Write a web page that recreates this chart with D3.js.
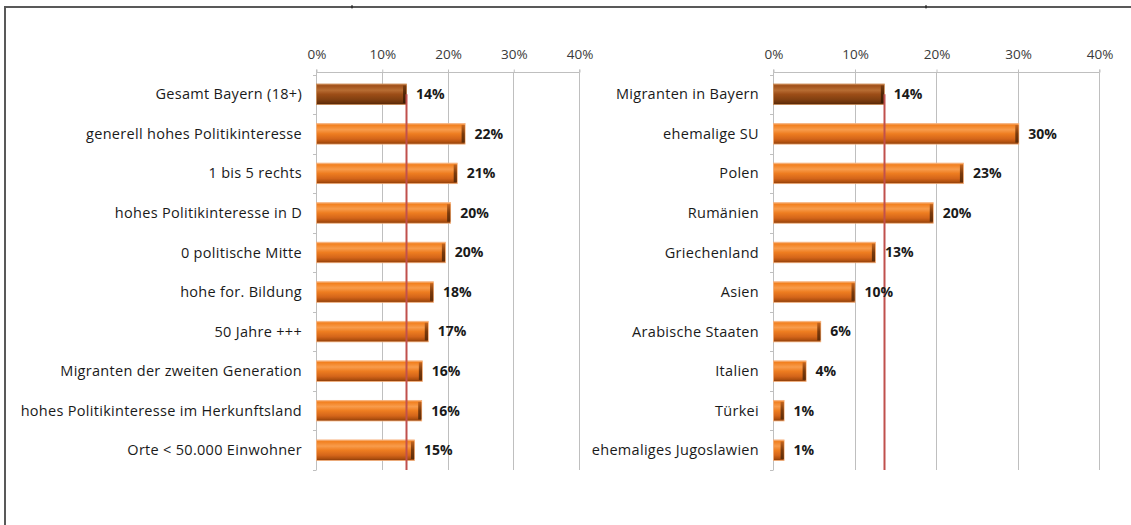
<!DOCTYPE html>
<html><head><meta charset="utf-8">
<script src="https://cdn.jsdelivr.net/npm/d3@7"></script>
<style>
html,body{margin:0;padding:0;background:#fff;}
svg{display:block;}
text{font-family:"Open Sans",Lato,sans-serif;}
</style></head>
<body>
<svg id="chart" width="1131" height="525"></svg>
<script>
const leftCategories = ["Gesamt Bayern (18+)","generell hohes Politikinteresse","1 bis 5 rechts","hohes Politikinteresse in D","0 politische Mitte","hohe for. Bildung","50 Jahre +++","Migranten der zweiten Generation","hohes Politikinteresse im Herkunftsland","Orte < 50.000 Einwohner"];
const leftValues = [0.137,0.226,0.214,0.204,0.196,0.178,0.170,0.161,0.160,0.149];
const leftLabels = ["14%","22%","21%","20%","20%","18%","17%","16%","16%","15%"];

const rightCategories = ["Migranten in Bayern","ehemalige SU","Polen","Rumänien","Griechenland","Asien","Arabische Staaten","Italien","Türkei","ehemaliges Jugoslawien"];
const rightValues = [0.136,0.301,0.233,0.196,0.125,0.100,0.058,0.040,0.013,0.013];
const rightLabels = ["14%","30%","23%","20%","13%","10%","6%","4%","1%","1%"];

const tickValues = [0,0.1,0.2,0.3,0.4];
const referenceLeft = 0.137;
const referenceRight = 0.136;

const svg = d3.select("#chart");
const defs = svg.append("defs");

function grad(id, stops){
  const g = defs.append("linearGradient").attr("id",id).attr("x1",0).attr("y1",0).attr("x2",0).attr("y2",1);
  stops.forEach(s=>g.append("stop").attr("offset",s[0]).attr("stop-color",s[1]));
}
grad("gOrange",[[0,"#f7b27a"],[0.08,"#f2801f"],[0.3,"#f89c4c"],[0.5,"#ee7d20"],[0.75,"#d4651a"],[0.9,"#b0500f"],[1,"#873b09"]]);
grad("gBrown",[[0,"#c98650"],[0.08,"#a0501a"],[0.3,"#b86d33"],[0.5,"#9c4d17"],[0.75,"#824011"],[0.9,"#6a320b"],[1,"#522607"]]);
grad("gCapO",[[0,"#c3641e"],[0.5,"#7a3a0c"],[1,"#5e2c08"]]);
grad("gCapB",[[0,"#7a3c10"],[0.5,"#4e2506"],[1,"#3c1c05"]]);

// frame
svg.append("line").attr("x1",5).attr("x2",1131).attr("y1",7).attr("y2",7).attr("stroke","#595959").attr("stroke-width",2);
svg.append("line").attr("x1",5).attr("x2",5).attr("y1",6).attr("y2",525).attr("stroke","#595959").attr("stroke-width",2);
[352,926].forEach(xx=>svg.append("line").attr("x1",xx).attr("x2",xx).attr("y1",5).attr("y2",8.5).attr("stroke","#111").attr("stroke-width",1));

function panel(cats, vals, labels, ref, x0, x1){
  const g = svg.append("g");
  const x = d3.scaleLinear().domain([0,0.4]).range([x0,x1]);
  const y = d3.scaleBand().domain(cats).range([74.5,470]).paddingInner(0.48).paddingOuter(0.24);
  const top = 72.5, bottom = 470;

  // gridlines
  g.selectAll(".grid").data(tickValues.slice(1)).join("line")
    .attr("x1",d=>Math.round(x(d))+0.5).attr("x2",d=>Math.round(x(d))+0.5)
    .attr("y1",top).attr("y2",bottom).attr("stroke","#bfbfbf").attr("stroke-width",1);

  // top axis
  const ax = d3.axisTop(x).tickValues(tickValues).tickFormat(d3.format(".0%")).tickSize(3).tickPadding(11);
  const axg = g.append("g").attr("transform",`translate(0.5,${top})`).call(ax);
  axg.select(".domain").attr("stroke","#bfbfbf").attr("d",`M${x0},-3V0H${x1}V-3`);
  axg.selectAll(".tick line").attr("stroke","#bfbfbf");
  axg.selectAll(".tick text").attr("fill","#3a3a3a").style("font-size","13.5px").style("font-family","'Open Sans',sans-serif");

  // left axis
  const edges = cats.map(c=>y(c)-y.step()*y.paddingInner()/2).concat([bottom]);
  g.append("line").attr("x1",x0+0.5).attr("x2",x0+0.5).attr("y1",top).attr("y2",bottom).attr("stroke","#bfbfbf");
  g.selectAll(".yt").data(edges).join("line")
    .attr("x1",x0-3).attr("x2",x0+0.5).attr("y1",d=>Math.round(d)+0.5).attr("y2",d=>Math.round(d)+0.5)
    .attr("stroke","#bfbfbf");

  // category labels
  g.selectAll(".cl").data(cats).join("text")
    .attr("x",x0-14).attr("y",d=>y(d)+y.bandwidth()/2).attr("dy","0.35em")
    .attr("text-anchor","end").attr("fill","#1a1a1a").style("font-size","14.5px").style("letter-spacing","0.3px").text(d=>d);

  // bars
  const bars = g.selectAll(".bar").data(vals).join("g");
  bars.append("rect")
    .attr("x",x(0)+0.5).attr("y",(d,i)=>y(cats[i]))
    .attr("width",d=>x(d)-x(0)).attr("height",y.bandwidth())
    .attr("fill",(d,i)=>i===0?"url(#gBrown)":"url(#gOrange)")
    .attr("stroke",(d,i)=>i===0?"#c98b55":"#f6b07a").attr("stroke-width",0.8);
  bars.append("rect")
    .attr("x",d=>x(d)-3).attr("y",(d,i)=>y(cats[i])+1.5)
    .attr("width",3.2).attr("height",y.bandwidth()-3)
    .attr("fill",(d,i)=>i===0?"url(#gCapB)":"url(#gCapO)");

  // reference line
  g.append("line").attr("x1",Math.round(x(ref))+0.5).attr("x2",Math.round(x(ref))+0.5)
    .attr("y1",y(cats[0])+y.bandwidth()/2).attr("y2",bottom)
    .attr("stroke","#c0504d").attr("stroke-width",2);

  // value labels
  g.selectAll(".vl").data(vals).join("text")
    .attr("x",d=>x(d)+10).attr("y",(d,i)=>y(cats[i])+y.bandwidth()/2).attr("dy","0.35em")
    .attr("fill","#1a1a1a").style("font-size","14px").style("font-weight","bold")
    .text((d,i)=>labels[i]);
}

panel(leftCategories, leftValues, leftLabels, referenceLeft, 316, 579);
panel(rightCategories, rightValues, rightLabels, referenceRight, 773, 1099);
</script>
</body></html>
